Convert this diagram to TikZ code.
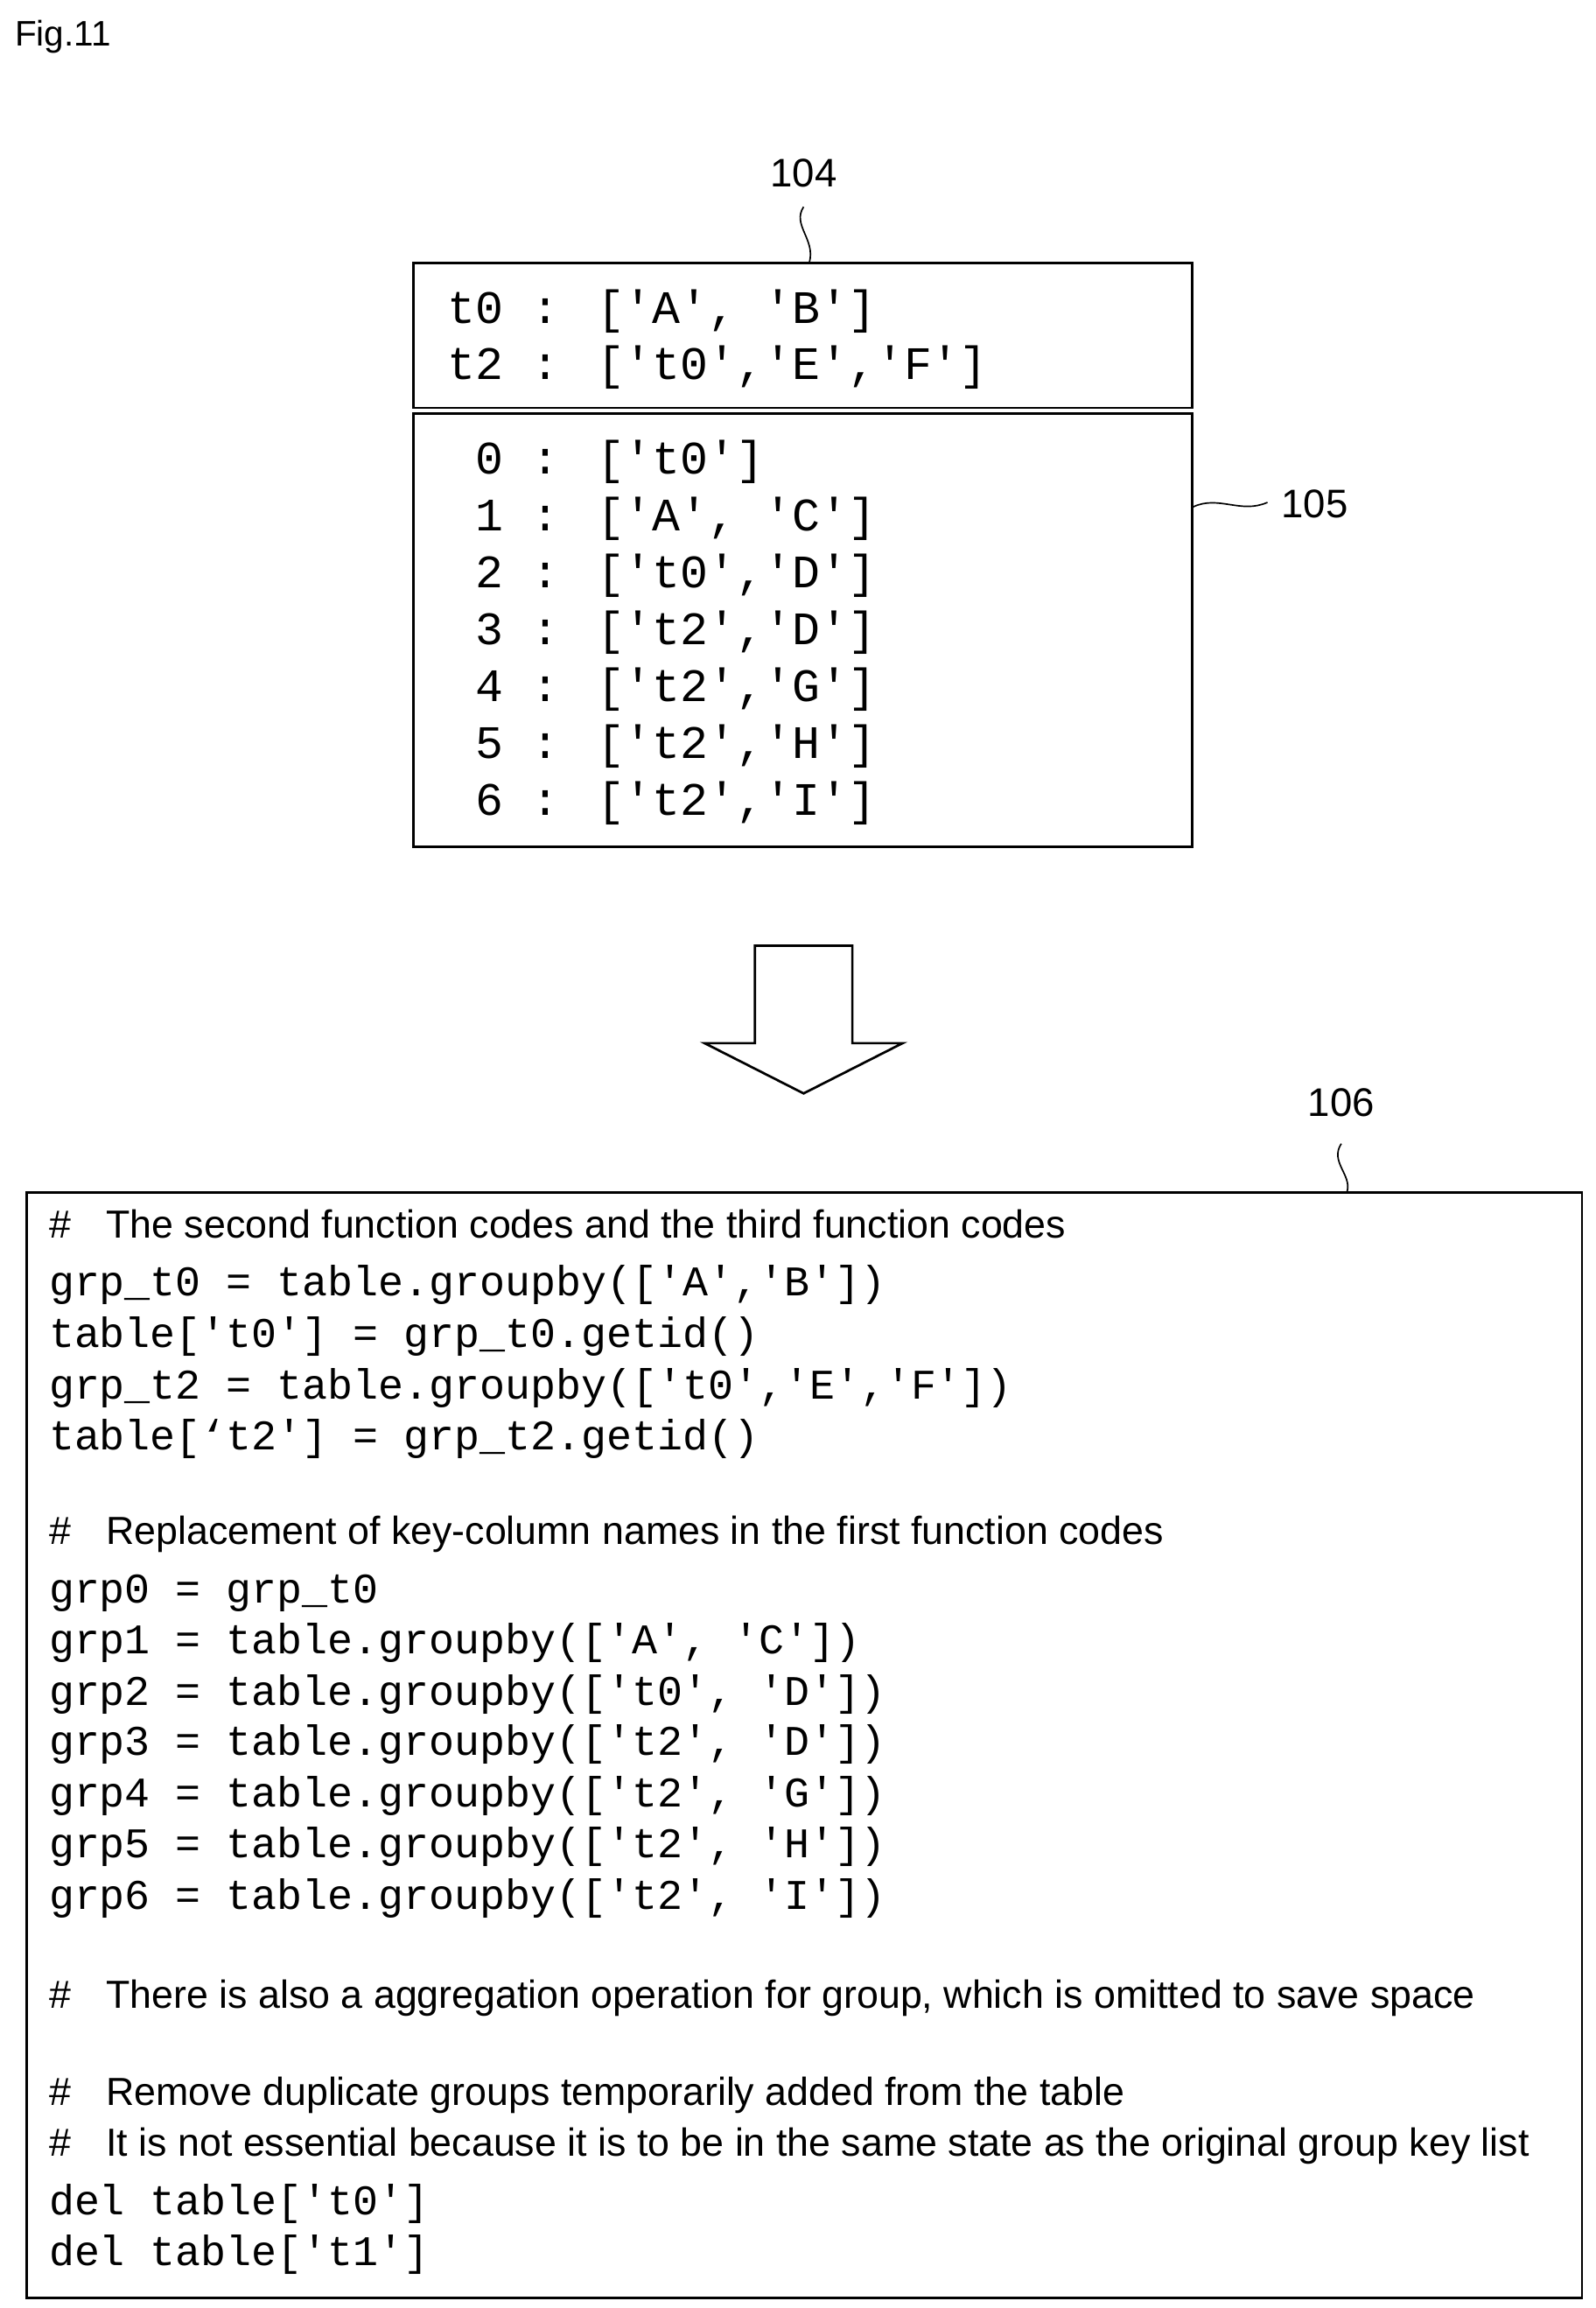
\documentclass[tikz,border=0pt]{standalone}
\usepackage{fontspec}
\setmainfont{Liberation Sans}
\newfontfamily\mono{Liberation Mono}
\begin{document}
\begin{tikzpicture}[x=1pt,y=-1pt,
  bx/.style={draw,line width=1.6pt},
  big/.style={anchor=base west,font=\mono\fontsize{31.5}{32}\selectfont,inner sep=0},
  code/.style={anchor=base west,font=\mono\fontsize{28.6}{29}\selectfont,inner sep=0},
  cmt/.style={anchor=base west,font=\fontsize{26.5}{27}\selectfont,inner sep=0},
  lbl/.style={font=\fontsize{27}{28}\selectfont,inner sep=0}]
\useasboundingbox (0,0) rectangle (1080,1562);
\node[anchor=base west,font=\fontsize{24}{25}\selectfont,inner sep=0] (fig) at (10,31) {Fig.11};
% top boxes
\node[bx,minimum width=527pt,minimum height=98pt,inner sep=0] (b104) at (543.5,227) {};
\node[bx,minimum width=527pt,minimum height=293pt,inner sep=0] (b105) at (543.5,426.5) {};
\node[big] (l1) at (303,219) {t0 : ['A', 'B']};
\node[big] (l2) at (303,257) {t2 : ['t0','E','F']};
\node[big] (r0) at (303,321) {\ 0 : ['t0']};
\node[big] (r1) at (303,359.5) {\ 1 : ['A', 'C']};
\node[big] (r2) at (303,398) {\ 2 : ['t0','D']};
\node[big] (r3) at (303,436.5) {\ 3 : ['t2','D']};
\node[big] (r4) at (303,475) {\ 4 : ['t2','G']};
\node[big] (r5) at (303,513.5) {\ 5 : ['t2','H']};
\node[big] (r6) at (303,552) {\ 6 : ['t2','I']};
\node[lbl] (n104) at (544,117) {104};
\draw[line width=1pt] (544,140) .. controls (536,152) and (552,162) .. (b104.north -| 548,0);
\node[lbl] (n105) at (890,341) {105};
\draw[line width=1pt] (b105.east |- 0,343) .. controls (825,335) and (840,348) .. (858,340);
% arrow
\draw[line width=1.6pt] (511,640) -- (577,640) -- (577,706) -- (611,706) -- (544,740) -- (477,706) -- (511,706) -- cycle;
% bottom box
\node[bx,minimum width=1053pt,minimum height=748pt,inner sep=0] (b106) at (544.5,1181) {};
\node[lbl] (n106) at (908,746) {106};
\draw[line width=1pt] (908,774) .. controls (900,786) and (915,795) .. (b106.north -| 912,0);
\node[cmt] (c1) at (33,838) {\#\hspace{24pt}The second function codes and the third function codes};
\node[code] (k1) at (33,877) {grp\_t0 = table.groupby(['A','B'])};
\node[code] (k2) at (33,912) {table['t0'] = grp\_t0.getid()};
\node[code] (k3) at (33,947) {grp\_t2 = table.groupby(['t0','E','F'])};
\node[code] (k4) at (33,981) {table[‘t2'] = grp\_t2.getid()};
\node[cmt] (c2) at (33,1045) {\#\hspace{24pt}Replacement of key-column names in the first function codes};
\node[code] (g0) at (33,1085) {grp0 = grp\_t0};
\node[code] (g1) at (33,1119) {grp1 = table.groupby(['A', 'C'])};
\node[code] (g2) at (33,1154) {grp2 = table.groupby(['t0', 'D'])};
\node[code] (g3) at (33,1188) {grp3 = table.groupby(['t2', 'D'])};
\node[code] (g4) at (33,1223) {grp4 = table.groupby(['t2', 'G'])};
\node[code] (g5) at (33,1257) {grp5 = table.groupby(['t2', 'H'])};
\node[code] (g6) at (33,1292) {grp6 = table.groupby(['t2', 'I'])};
\node[cmt] (c3) at (33,1359) {\#\hspace{24pt}There is also a aggregation operation for group, which is omitted to save space};
\node[cmt] (c4) at (33,1425) {\#\hspace{24pt}Remove duplicate groups temporarily added from the table};
\node[cmt] (c5) at (33,1459) {\#\hspace{24pt}It is not essential because it is to be in the same state as the original group key list};
\node[code] (d1) at (33,1499) {del table['t0']};
\node[code] (d2) at (33,1533) {del table['t1']};
\end{tikzpicture}
\end{document}
